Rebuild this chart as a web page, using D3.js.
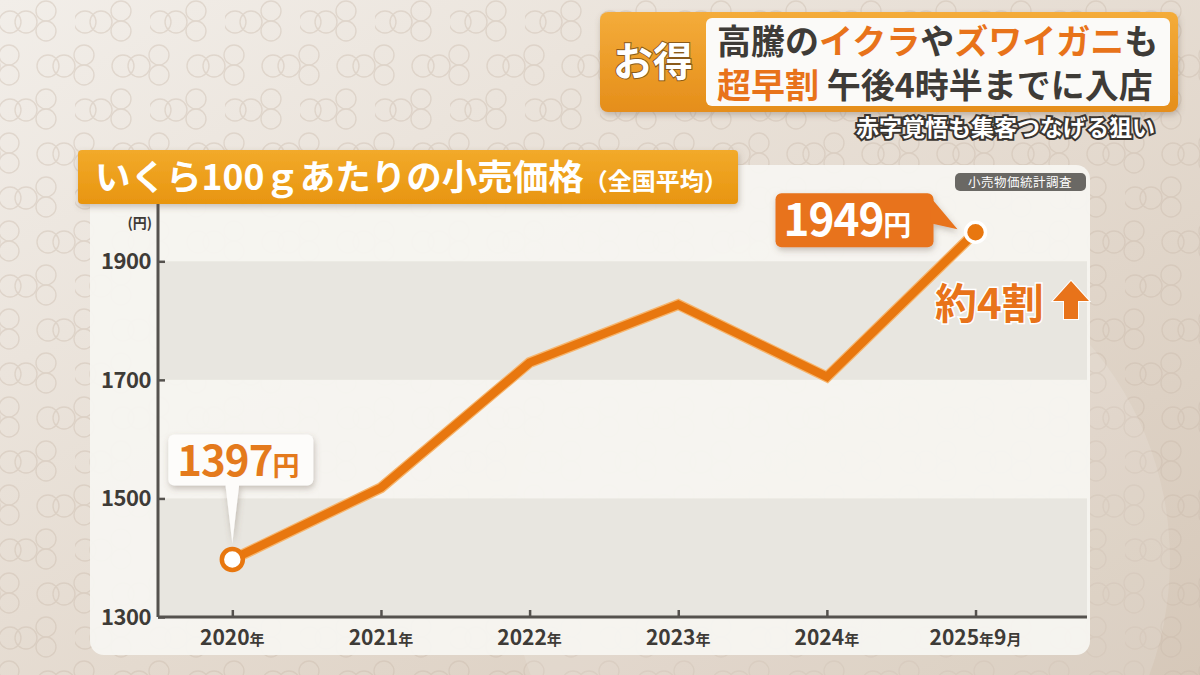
<!DOCTYPE html>
<html>
<head>
<meta charset="utf-8">
<script src="https://cdn.jsdelivr.net/npm/d3@7"></script>
<style>
body{margin:0;background:#e2d8cd;}
svg text{font-family:"Noto Sans CJK JP","Noto Sans",sans-serif;}
</style>
</head>
<body>
<svg id="chart" width="1200" height="675"></svg>
<script>
// data
var years=["2020年","2021年","2022年","2023年","2024年","2025年9月"];
var prices=[1397,1518,1729,1827,1705,1949];
var yTicks=[1300,1500,1700,1900];
var bands=[[1300,1500],[1700,1900]];

var orange="#e8770f", dark="#3e3b37";
var svg=d3.select("#chart");
var defs=svg.append("defs");

// background
var bg=defs.append("linearGradient").attr("id","bg").attr("x1",0).attr("y1",0).attr("x2",1).attr("y2",1);
bg.append("stop").attr("offset",0).attr("stop-color","#f2eee9");
bg.append("stop").attr("offset",0.55).attr("stop-color","#e4dacf");
bg.append("stop").attr("offset",1).attr("stop-color","#d6c8b9");
svg.append("rect").attr("width",1200).attr("height",675).attr("fill","url(#bg)");

// ring pattern
var pat=defs.append("pattern").attr("id","rings").attr("patternUnits","userSpaceOnUse")
  .attr("width",75).attr("height",88);
function motif(g,x,y){
  g.append("circle").attr("cx",x-8).attr("cy",y).attr("r",11);
  g.append("circle").attr("cx",x+8).attr("cy",y).attr("r",11);
  g.append("circle").attr("cx",x+28).attr("cy",y-11).attr("r",10);
  g.append("circle").attr("cx",x+28).attr("cy",y+9).attr("r",10);
}
var pg=pat.append("g").attr("fill","none").attr("stroke","#c9b9aa").attr("stroke-width",1.4).attr("opacity",0.4);
motif(pg,18,22);
motif(pg,-19,66);motif(pg,56,66);
svg.append("rect").attr("width",1200).attr("height",675).attr("fill","url(#rings)");
svg.append("circle").attr("cx",840).attr("cy",560).attr("r",330).attr("fill","#ffffff").attr("opacity",0.12);

// shadow
var sh=defs.append("filter").attr("id","sh").attr("x","-10%").attr("y","-10%").attr("width","120%").attr("height","130%");
sh.append("feDropShadow").attr("dx",1).attr("dy",3).attr("stdDeviation",3).attr("flood-color","#6b5a48").attr("flood-opacity",0.35);

// chart panel
svg.append("rect").attr("x",90).attr("y",165).attr("width",1000).attr("height",490).attr("rx",14)
  .attr("fill","#f7f5f1").attr("opacity",0.94);

var x=d3.scaleLinear().domain([-0.5,5.75]).range([158,1087]);
var y=d3.scaleLinear().domain([1300,2000]).range([617,202]);

svg.append("g").selectAll("rect").data(bands).enter().append("rect")
  .attr("x",x(-0.5)).attr("width",x(5.75)-x(-0.5))
  .attr("y",function(d){return y(d[1]);})
  .attr("height",function(d){return y(d[0])-y(d[1]);})
  .attr("fill","#e7e4de").attr("opacity",0.9);

// axes
var yAxis=d3.axisRight(y).tickValues(yTicks).tickSize(7).tickFormat("");
var gy=svg.append("g").attr("transform","translate("+x(-0.5)+",0)").call(yAxis);
gy.select(".domain").attr("d","M0,"+y(2000)+"V"+y(1300)).attr("stroke","#55524e").attr("stroke-width",3);
gy.selectAll(".tick line").attr("stroke","#55524e").attr("stroke-width",2.5);
svg.append("g").selectAll("text").data(yTicks).enter().append("text")
  .attr("x",151).attr("y",function(d){return y(d)+8;}).attr("text-anchor","end")
  .attr("font-size",22).attr("font-weight",700).attr("fill",dark).attr("letter-spacing",-0.5)
  .text(function(d){return d;});
svg.append("text").attr("x",152).attr("y",228).attr("text-anchor","end").attr("font-size",14)
  .attr("font-weight",700).attr("fill",dark).text("(円)");

var xAxis=d3.axisTop(x).tickValues(d3.range(years.length)).tickSize(7).tickFormat("");
var gx=svg.append("g").attr("transform","translate(0,"+y(1300)+")").call(xAxis);
gx.select(".domain").attr("d","M"+x(-0.5)+",0H"+x(5.75)).attr("stroke","#55524e").attr("stroke-width",3);
gx.selectAll(".tick line").attr("stroke","#55524e").attr("stroke-width",2.5);
var xl=svg.append("g").selectAll("text").data(years).enter().append("text")
  .attr("x",function(d,i){return x(i);}).attr("y",645).attr("text-anchor","middle")
  .attr("fill",dark).attr("font-weight",700);
xl.each(function(d){
  var t=d3.select(this);
  d.split(/(\d+)/).filter(function(s){return s.length;}).forEach(function(s){
    t.append("tspan").attr("font-size",/\d/.test(s)?21:15).text(s);
  });
});

// line
var line=d3.line().x(function(d,i){return x(i);}).y(function(d){return y(d);}).curve(d3.curveLinear);
svg.append("path").datum(prices).attr("d",line).attr("fill","none").attr("stroke","#f6b56d")
  .attr("stroke-width",11).attr("stroke-linejoin","miter");
svg.append("path").datum(prices).attr("d",line).attr("fill","none").attr("stroke",orange)
  .attr("stroke-width",8.5).attr("stroke-linejoin","miter");

var n=prices.length-1;
// first point callout
var p0x=x(0), p0y=y(prices[0]);
var c0=svg.append("g").attr("filter","url(#sh)");
c0.append("rect").attr("x",p0x-64).attr("y",p0y-125).attr("width",145).attr("height",51).attr("rx",6).attr("fill","#fdfcfa");
c0.append("path").attr("d","M"+(p0x-7)+","+(p0y-76)+"L"+(p0x+7)+","+(p0y-76)+"L"+p0x+","+(p0y-16)+"Z").attr("fill","#fdfcfa");
var t0=svg.append("text").attr("x",p0x-55).attr("y",p0y-83).attr("fill","#e47a1c").attr("font-weight",700);
t0.append("tspan").attr("font-size",42).attr("letter-spacing",-1).text(prices[0]);
t0.append("tspan").attr("font-size",27).text("円");
svg.append("circle").attr("cx",p0x).attr("cy",p0y).attr("r",10.5).attr("fill","#fff").attr("stroke",orange).attr("stroke-width",4.5);

// last point callout
var pnx=x(n), pny=y(prices[n]);
var c1=svg.append("g").attr("filter","url(#sh)");
c1.append("rect").attr("x",pnx-200).attr("y",pny-39).attr("width",158).attr("height",54).attr("rx",6).attr("fill","#e8731a");
c1.append("path").attr("d","M"+(pnx-45)+","+(pny-35)+"L"+(pnx-45)+","+(pny-9)+"L"+(pnx-18)+","+(pny-3)+"Z").attr("fill","#e8731a");
var t1=svg.append("text").attr("x",pnx-192).attr("y",pny+4).attr("fill","#fff").attr("font-weight",700);
t1.append("tspan").attr("font-size",44).attr("letter-spacing",-1).text(prices[n]);
t1.append("tspan").attr("font-size",28).text("円");
svg.append("circle").attr("cx",pnx).attr("cy",pny).attr("r",10).attr("fill",orange).attr("stroke","#fff").attr("stroke-width",3.5);

// change label
svg.append("text").attr("x",935).attr("y",319).attr("font-size",42).attr("font-weight",700)
  .attr("fill","#e8731a").attr("stroke","#fff").attr("stroke-width",3).attr("paint-order","stroke")
  .text("約4割");
svg.append("path").attr("d","M1071,281L1089,301L1078,301L1078,319L1064,319L1064,301L1053,301Z")
  .attr("fill","#e8731a").attr("stroke","#fff").attr("stroke-width",2).attr("paint-order","stroke");

// source
svg.append("rect").attr("x",955).attr("y",173).attr("width",131).attr("height",18).attr("rx",5).attr("fill","#6a6864");
svg.append("text").attr("x",1020).attr("y",187).attr("text-anchor","middle").attr("font-size",12.5)
  .attr("fill","#fff").attr("letter-spacing",0.5).text("小売物価統計調査");

// title box
var tg=defs.append("linearGradient").attr("id","tg").attr("x1",0).attr("y1",0).attr("x2",0).attr("y2",1);
tg.append("stop").attr("offset",0).attr("stop-color","#f2aa2a");
tg.append("stop").attr("offset",1).attr("stop-color","#e8950f");
svg.append("rect").attr("x",78).attr("y",150).attr("width",660).attr("height",54).attr("rx",4)
  .attr("fill","url(#tg)").attr("filter","url(#sh)");
var tt=svg.append("text").attr("x",95).attr("y",190).attr("fill","#fff").attr("font-weight",700);
tt.append("tspan").attr("font-size",35.5).text("いくら100ｇあたりの小売価格");
tt.append("tspan").attr("font-size",24).text("（全国平均）");

// headline banner
var bgr=defs.append("linearGradient").attr("id","bn").attr("x1",0).attr("y1",0).attr("x2",0).attr("y2",1);
bgr.append("stop").attr("offset",0).attr("stop-color","#f4ac3a");
bgr.append("stop").attr("offset",1).attr("stop-color","#e58e1a");
svg.append("rect").attr("x",600).attr("y",12).attr("width",578).attr("height",100).attr("rx",8)
  .attr("fill","url(#bn)").attr("filter","url(#sh)");
svg.append("rect").attr("x",706).attr("y",18).attr("width",464).attr("height",88).attr("rx",6).attr("fill","#fbfaf8");
svg.append("text").attr("x",653).attr("y",76).attr("text-anchor","middle").attr("font-size",40).attr("font-weight",700)
  .attr("fill","#fff").attr("stroke","#8a5a1a").attr("stroke-width",2).attr("paint-order","stroke").text("お得");

var headline1=[["高騰の",dark],["イクラ","#e8731a"],["や",dark],["ズワイガニ","#e8731a"],["も",dark]];
var headline2=[["超早割","#e8731a"],[" 午後4時半までに入店",dark]];
[headline1,headline2].forEach(function(parts,k){
  var t=svg.append("text").attr("x",717).attr("y",[54,98][k]).attr("font-size",34).attr("font-weight",700);
  parts.forEach(function(p){t.append("tspan").attr("fill",p[1]).text(p[0]);});
});

svg.append("text").attr("x",1155).attr("y",136).attr("text-anchor","end").attr("font-size",23).attr("font-weight",700)
  .attr("fill","#fff").attr("stroke","#3a3530").attr("stroke-width",4).attr("paint-order","stroke")
  .text("赤字覚悟も集客つなげる狙い");
</script>
</body>
</html>
